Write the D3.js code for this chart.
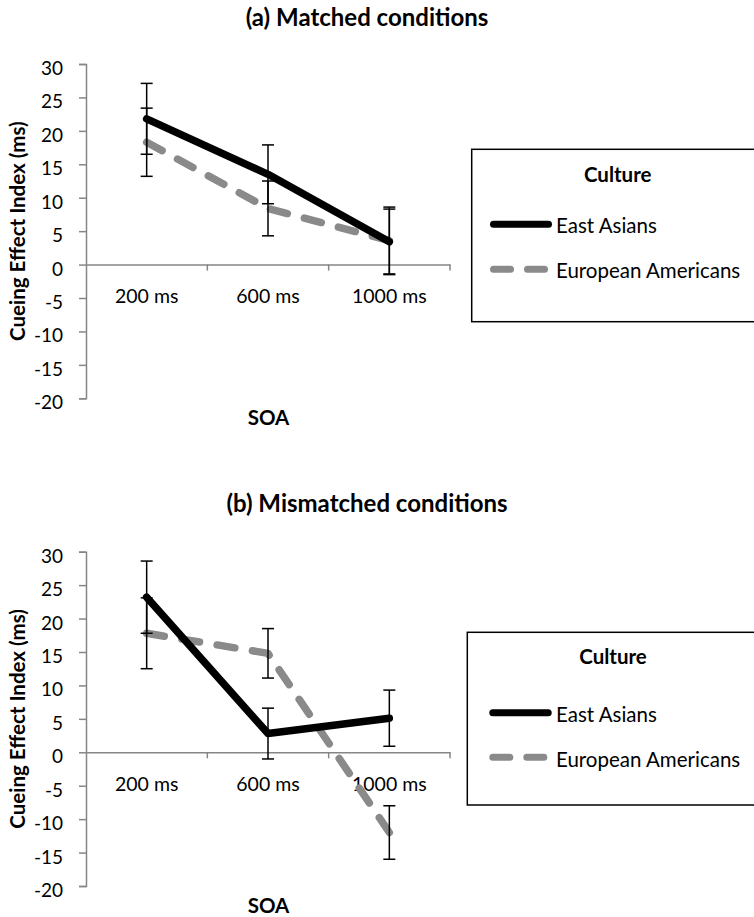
<!DOCTYPE html>
<html>
<head>
<meta charset="utf-8">
<script src="https://cdn.jsdelivr.net/npm/d3@7"></script>
<style>
  body { margin: 0; background: #fff; }
  text { font-family: Lato, "Open Sans", sans-serif; fill: #000; }
</style>
</head>
<body>
<svg id="chart" width="754" height="917"></svg>
<script>
  var categories = ["200 ms", "600 ms", "1000 ms"];
  var yTicks = [30, 25, 20, 15, 10, 5, 0, -5, -10, -15, -20];
  var seriesNames = ["East Asians", "European Americans"];
  var panelTitles = ["(a) Matched conditions", "(b) Mismatched conditions"];

  // (a) matched
  var matchedEast = [21.8, 13.5, 3.4];
  var matchedEastErr = [5.3, 4.4, 4.9];
  var matchedEuro = [18.3, 8.4, 3.6];
  var matchedEuroErr = [5.1, 4.1, 5.0];

  // (b) mismatched
  var mismatchedEast = [23.2, 2.8, 5.1];
  var mismatchedEastErr = [5.4, 3.8, 4.2];
  var mismatchedEuro = [17.8, 14.8, -12.0];
  var mismatchedEuroErr = [5.3, 3.7, 4.0];

  var svg = d3.select("#chart");
  var GRAY = "#8a8a8a";
  var AXIS = "#868686";

  // layout for each panel (pixel positions)
  var layouts = [
    { top: 64, bottom: 398.3, titleY: 26, soaY: 425,
      lg: { x: 471.7, y: 149.3, h: 172.4, cx: 617.7, cultY: 181.5, eY: 224.3, eT: 233.3, uY: 269.3, uT: 278.3, x0: 490, x1: 552 } },
    { top: 551.7, bottom: 886, titleY: 511.7, soaY: 913,
      lg: { x: 467.3, y: 632.3, h: 172.7, cx: 613, cultY: 664, eY: 712.7, eT: 721.7, uY: 757.3, uT: 766.7, x0: 489.3, x1: 551.7 } }
  ];

  var panels = [
    { title: panelTitles[0], east: matchedEast, eastErr: matchedEastErr, euro: matchedEuro, euroErr: matchedEuroErr },
    { title: panelTitles[1], east: mismatchedEast, eastErr: mismatchedEastErr, euro: mismatchedEuro, euroErr: mismatchedEuroErr }
  ];

  var x = d3.scaleBand().domain(categories).range([86, 450]).padding(0);

  function drawPanel(p, L) {
    var g = svg.append("g");
    var y = d3.scaleLinear().domain([-20, 30]).range([L.bottom, L.top]);

    // title
    g.append("text")
      .attr("x", 367).attr("y", L.titleY)
      .attr("text-anchor", "middle")
      .style("font-weight", "bold").style("font-size", "24px")
      .text(p.title);

    // y axis
    var ya = g.append("g")
      .attr("transform", "translate(86,0)")
      .call(d3.axisLeft(y).tickValues(yTicks).tickSize(7).tickSizeOuter(7).tickPadding(16)
        .tickFormat(function (d) { return String(d); }));
    ya.selectAll("path, line").attr("stroke", AXIS).attr("stroke-width", 1.5);
    ya.selectAll("text").attr("dy", "0.55em").style("font-size", "19px").style("font-family", "Lato");

    // x axis at zero
    var xa = g.append("g")
      .attr("transform", "translate(0," + y(0) + ")")
      .call(d3.axisBottom(x).tickSize(0).tickSizeOuter(0).tickPadding(24.5));
    xa.select(".domain").attr("stroke", AXIS).attr("stroke-width", 1.5);
    xa.selectAll("text").style("font-size", "19.5px").style("font-family", "Lato");
    // tick marks between categories
    g.selectAll(".xtick").data(categories).enter().append("line")
      .attr("x1", function (d) { return x(d) + x.bandwidth(); })
      .attr("x2", function (d) { return x(d) + x.bandwidth(); })
      .attr("y1", y(0)).attr("y2", y(0) + 6)
      .attr("stroke", AXIS).attr("stroke-width", 1.5);

    // axis titles
    g.append("text")
      .attr("transform", "translate(17," + (L.top + L.bottom) / 2 + ") rotate(-90)")
      .attr("text-anchor", "middle").attr("dominant-baseline", "central")
      .style("font-weight", "bold").style("font-size", "20.5px")
      .text("Cueing Effect Index (ms)");
    g.append("text")
      .attr("x", 268.5).attr("y", L.soaY)
      .attr("text-anchor", "middle")
      .style("font-weight", "bold").style("font-size", "20.5px")
      .text("SOA");

    var cx = function (d, i) { return x(categories[i]) + x.bandwidth() / 2; };
    var line = d3.line().x(cx).y(function (d) { return y(d); });

    // lines
    var dashed = g.append("path").datum(p.euro)
      .attr("d", line).attr("fill", "none")
      .attr("stroke", GRAY).attr("stroke-width", 7.5)
      .attr("stroke-linecap", "round").attr("stroke-linejoin", "round");
    // stretch the dash so the line starts and ends on a dash
    var len = dashed.node().getTotalLength();
    var n = Math.max(1, Math.round(len / 34 - 0.5));
    var half = len / (n + 0.5) / 2;
    dashed.attr("stroke-dasharray", half + "," + half);

    g.append("path").datum(p.east)
      .attr("d", line).attr("fill", "none")
      .attr("stroke", "#000").attr("stroke-width", 7.5)
      .attr("stroke-linecap", "round").attr("stroke-linejoin", "round");

    // error bars
    [[p.east, p.eastErr], [p.euro, p.euroErr]].forEach(function (s) {
      var eb = g.append("g").selectAll("g").data(s[0]).enter().append("g");
      eb.append("line")
        .attr("x1", cx).attr("x2", cx)
        .attr("y1", function (d, i) { return y(d + s[1][i]); })
        .attr("y2", function (d, i) { return y(d - s[1][i]); })
        .attr("stroke", "#000").attr("stroke-width", 1.5);
      [1, -1].forEach(function (sign) {
        eb.append("line")
          .attr("x1", function (d, i) { return cx(d, i) - 6; })
          .attr("x2", function (d, i) { return cx(d, i) + 6; })
          .attr("y1", function (d, i) { return y(d + sign * s[1][i]); })
          .attr("y2", function (d, i) { return y(d + sign * s[1][i]); })
          .attr("stroke", "#000").attr("stroke-width", 1.5);
      });
    });

    // legend
    var lg = L.lg;
    g.append("rect")
      .attr("x", lg.x).attr("y", lg.y).attr("width", 320).attr("height", lg.h)
      .attr("fill", "#fff").attr("stroke", "#000").attr("stroke-width", 1.5);
    g.append("text")
      .attr("x", lg.cx).attr("y", lg.cultY).attr("text-anchor", "middle")
      .style("font-weight", "bold").style("font-size", "20.5px")
      .text("Culture");
    g.append("line")
      .attr("x1", lg.x0 + 3.5).attr("x2", lg.x1 - 3.5).attr("y1", lg.eY).attr("y2", lg.eY)
      .attr("stroke", "#000").attr("stroke-width", 7).attr("stroke-linecap", "round");
    g.append("line")
      .attr("x1", lg.x0 + 3.5).attr("x2", lg.x1 - 3.5).attr("y1", lg.uY).attr("y2", lg.uY)
      .attr("stroke", GRAY).attr("stroke-width", 7).attr("stroke-linecap", "round")
      .attr("stroke-dasharray", "17,17");
    g.append("text").attr("x", 556).attr("y", lg.eT)
      .style("font-size", "20.5px").text(seriesNames[0]);
    g.append("text").attr("x", 556).attr("y", lg.uT)
      .style("font-size", "20.5px").text(seriesNames[1]);
  }

  panels.forEach(function (p, i) { drawPanel(p, layouts[i]); });
</script>
</body>
</html>
